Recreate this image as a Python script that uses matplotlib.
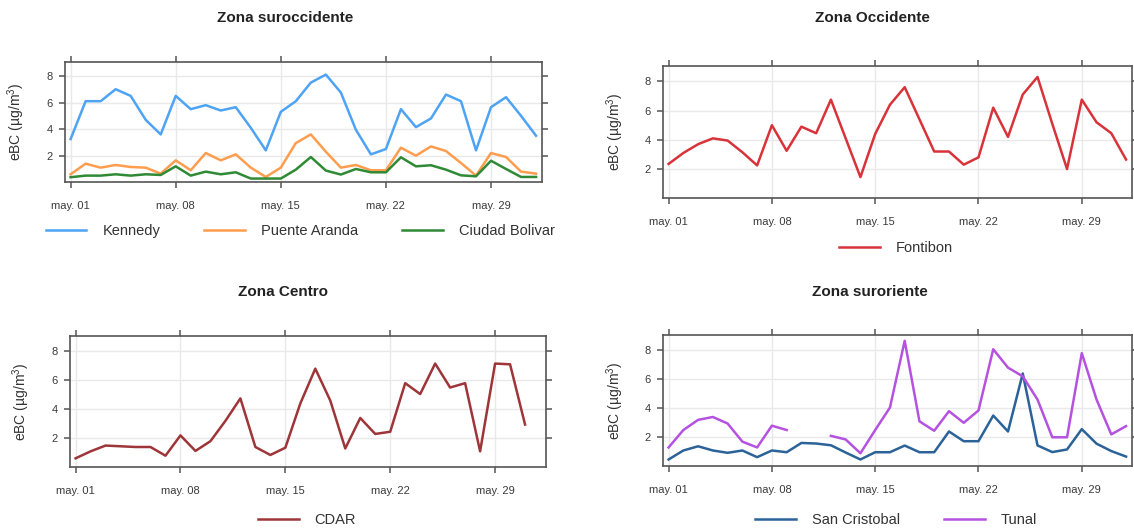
import numpy as np
import pandas as pd
import matplotlib
matplotlib.use("Agg")
import matplotlib.pyplot as plt
import matplotlib.dates as mdates
from matplotlib.ticker import FuncFormatter

plt.rcParams['font.family'] = ['Liberation Sans', 'DejaVu Sans']
plt.rcParams['mathtext.fontset'] = 'custom'
plt.rcParams['mathtext.rm'] = 'Liberation Sans'
plt.rcParams['mathtext.it'] = 'Liberation Sans:italic'

# daily eBC means, may 01 .. jun 01
dates = pd.date_range('2019-05-01', '2019-06-01', freq='D')

kennedy = [3.25, 6.1, 6.1, 7.0, 6.5, 4.7, 3.6, 6.5, 5.5, 5.8, 5.4, 5.65, 4.1, 2.4, 5.3, 6.1,
           7.5, 8.1, 6.75, 3.95, 2.1, 2.5, 5.5, 4.15, 4.8, 6.6, 6.1, 2.4, 5.65, 6.4, 5.0, 3.5]
puente_aranda = [0.6, 1.4, 1.1, 1.3, 1.15, 1.1, 0.65, 1.65, 0.9, 2.2, 1.65, 2.1, 1.1, 0.4, 1.1, 2.95,
                 3.6, 2.3, 1.1, 1.3, 0.9, 0.9, 2.6, 2.0, 2.7, 2.35, 1.45, 0.5, 2.2, 1.9, 0.8, 0.65]
ciudad_bolivar = [0.38, 0.5, 0.5, 0.6, 0.5, 0.6, 0.55, 1.2, 0.5, 0.8, 0.6, 0.75, 0.28, 0.28, 0.28, 0.95,
                  1.9, 0.88, 0.58, 1.0, 0.75, 0.75, 1.88, 1.2, 1.28, 0.95, 0.52, 0.45, 1.62, 1.0, 0.4, 0.4]
fontibon = [2.35, 3.1, 3.7, 4.1, 3.95, 3.15, 2.25, 5.0, 3.25, 4.9, 4.45, 6.75, 4.1, 1.45, 4.4, 6.4,
            7.6, 5.4, 3.2, 3.2, 2.3, 2.8, 6.2, 4.2, 7.1, 8.3, 5.1, 2.0, 6.75, 5.2, 4.45, 2.65]
cdar = [0.62, 1.1, 1.5, 1.45, 1.4, 1.4, 0.8, 2.2, 1.13, 1.8, 3.2, 4.75, 1.4, 0.85, 1.35, 4.4,
        6.8, 4.6, 1.3, 3.4, 2.3, 2.45, 5.8, 5.05, 7.15, 5.5, 5.8, 1.1, 7.15, 7.1, 2.95, np.nan]
san_cristobal = [0.47, 1.09, 1.38, 1.09, 0.93, 1.09, 0.63, 1.09, 0.97, 1.61, 1.57, 1.45, 0.95, 0.47, 0.97, 0.97,
                 1.43, 0.97, 0.97, 2.4, 1.73, 1.73, 3.5, 2.4, 6.4, 1.44, 0.98, 1.16, 2.56, 1.56, 1.05, 0.67]
tunal = [1.3, 2.5, 3.2, 3.4, 2.95, 1.7, 1.3, 2.8, 2.5, np.nan, np.nan, 2.1, 1.85, 0.9, 2.5, 4.05,
         8.65, 3.1, 2.45, 3.8, 3.0, 3.85, 8.07, 6.8, 6.2, 4.6, 2.0, 2.0, 7.8, 4.6, 2.2, 2.77]

tick_dates = pd.to_datetime(['2019-05-01', '2019-05-08', '2019-05-15', '2019-05-22', '2019-05-29'])
y_ticks = [2, 4, 6, 8]

panels = [
    ("Zona suroccidente", [0.0573, 0.6553, 0.4207, 0.2273],
     [("Kennedy", kennedy, '#4ea3f5'), ("Puente Aranda", puente_aranda, '#ff9d4f'),
      ("Ciudad Bolivar", ciudad_bolivar, '#2f8a35')],
     (285, 18), (300, 231)),
    ("Zona Occidente", [0.5847, 0.625, 0.4135, 0.25],
     [("Fontibon", fontibon, '#d8333a')],
     (872, 18), (896, 248)),
    ("Zona Centro", [0.0617, 0.1155, 0.4198, 0.2481],
     [("CDAR", cdar, '#9e3538')],
     (283, 292), (307, 520)),
    ("Zona suroriente", [0.5847, 0.1174, 0.4135, 0.2481],
     [("San Cristobal", san_cristobal, '#2b6399'), ("Tunal", tunal, '#b552e0')],
     (870, 292), (896, 520)),
]

W, H = 1134, 528
fig = plt.figure(figsize=(W / 100, H / 100), dpi=100)
frame_col = '#555555'
text_col = '#333333'

for title, rect, series, title_xy, leg_xy in panels:
    ax = fig.add_axes(rect)
    handles = []
    for name, vals, col in series:
        h, = ax.plot(dates, vals, color=col, lw=1.8, label=name)
        handles.append(h)

    ax.set_xlim(dates[0] - pd.Timedelta(hours=9), dates[0] + pd.Timedelta(days=31.4))
    ax.set_ylim(0.02, 9.05)
    ax.set_xticks(tick_dates)
    ax.xaxis.set_major_formatter(FuncFormatter(
        lambda v, p: "may. " + mdates.num2date(v).strftime('%d')))
    ax.set_yticks(y_ticks)
    ax.grid(True, color='#e9e9e9', lw=1.0)
    ax.set_axisbelow(True)

    for sp in ax.spines.values():
        sp.set_color(frame_col)
        sp.set_linewidth(1.2)
    ax.tick_params(direction='out', length=4, width=1.1, color=frame_col,
                   top=True, right=True, labeltop=False, labelright=False,
                   labelcolor='#3a3a3a', labelsize=8)
    ax.tick_params(axis='x', pad=10)
    ax.tick_params(axis='y', pad=5)

    ax.set_ylabel('eBC (µg/m$^3$)', fontsize=10, color=text_col)
    ax.yaxis.set_label_coords(-0.08, 0.5)

    fig.text(title_xy[0] / W, 1 - title_xy[1] / H, title, ha='center', va='center',
             fontsize=11, fontweight='bold', color='#222222')
    fig.legend(handles=handles, loc='center', bbox_to_anchor=(leg_xy[0] / W, 1 - leg_xy[1] / H),
               ncol=len(handles), frameon=False, fontsize=10.5, handlelength=2.8,
               handletextpad=1.1, columnspacing=3.0, borderpad=0, labelcolor=text_col)

fig.savefig("out.png", dpi=100)
